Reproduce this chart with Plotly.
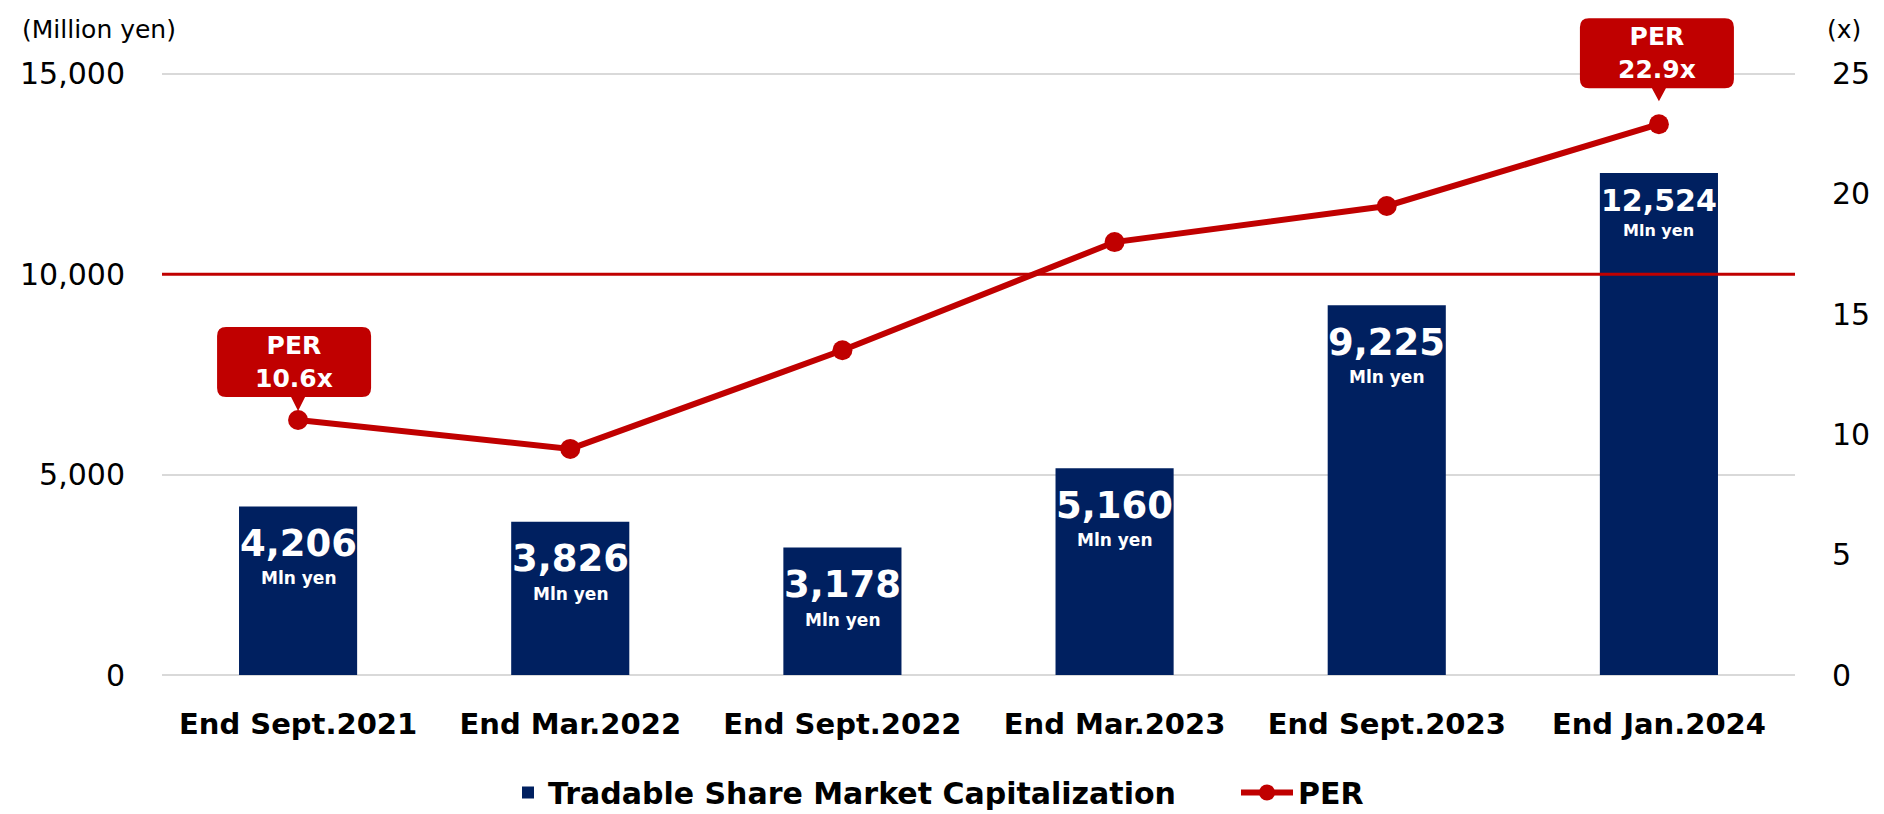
import plotly.graph_objects as go

# ---------------- data ----------------
categories = ["End Sept.2021", "End Mar.2022", "End Sept.2022",
              "End Mar.2023", "End Sept.2023", "End Jan.2024"]
market_cap = [4206, 3826, 3178, 5160, 9225, 12524]       # Million yen
per_values = [10.6, 9.4, 13.5, 18.0, 19.5, 22.9]          # x
callout_idx = [0, 5]                                      # points with PER callouts
reference_level = 10000                                   # red horizontal reference line
left_ticks = [0, 5000, 10000, 15000]
right_ticks = [0, 5, 10, 15, 20, 25]
left_top_tick = 15000
right_top_tick = 25

# ---------------- style ----------------
W, H = 1884, 814
ML, MR = 154, 97
GRID_TOP_PX = 67          # pixel row of the top gridline
PLOT_BOTTOM_PX = 681      # pixel row of the zero line
PLOT_TOP_PX = 4           # plot area extends above the top gridline (room for callout)
MT = PLOT_TOP_PX
MB = H - PLOT_BOTTOM_PX
NAVY = "#002060"
RED = "#C00000"
GRID = "#D9D9D9"
FONT = "DejaVu Sans"

PW = W - ML - MR
PH = H - MT - MB
stretch = (PLOT_BOTTOM_PX - PLOT_TOP_PX) / (PLOT_BOTTOM_PX - GRID_TOP_PX)
y_range = [0, left_top_tick * stretch]
y2_range = [0, right_top_tick * stretch]


def px_x(px):
    return (px - ML) / PW


def px_y(py):
    return (H - MB - py) / PH


fig = go.Figure()

fig.add_trace(go.Bar(
    x=categories, y=market_cap, name="Tradable Share Market Capitalization",
    marker=dict(color=NAVY, line=dict(width=0)), yaxis="y",
    hoverinfo="skip", legend="legend",
))
fig.add_trace(go.Scatter(
    x=categories, y=per_values, name="PER", yaxis="y2",
    mode="lines+markers",
    line=dict(color=RED, width=6),
    marker=dict(color=RED, size=20),
    hoverinfo="skip", legend="legend2",
))

# reference line
fig.add_shape(type="line", xref="paper", yref="y", x0=0, x1=1,
              y0=reference_level, y1=reference_level,
              line=dict(color=RED, width=3), layer="above")

annotations = []

# bar labels
num_size = [37, 37, 37, 37, 37, 30]
unit_size = [17, 17, 17, 17, 17, 16]
num_shift = [-37, -37, -37, -37, -37, -28]
unit_shift = [-72, -72, -72, -72, -72, -58]
for i, (c, v) in enumerate(zip(categories, market_cap)):
    annotations.append(dict(
        x=c, y=v, xref="x", yref="y", text=f"<b>{v:,}</b>", showarrow=False,
        yanchor="middle", yshift=num_shift[i],
        font=dict(family=FONT, size=num_size[i], color="white"),
    ))
    annotations.append(dict(
        x=c, y=v, xref="x", yref="y", text="<b>Mln yen</b>", showarrow=False,
        yanchor="middle", yshift=unit_shift[i],
        font=dict(family=FONT, size=unit_size[i], color="white"),
    ))

# PER callouts (rounded box with pointer)
box_bottom = [23, 36]
tip_gap = [9, 23]
box_h = 70
box_half_w = 77
box_dx = [-4, -2]
r = 9
for k, i in enumerate(callout_idx):
    B = box_bottom[k]
    T = B + box_h
    Lx = box_dx[k] - box_half_w
    Rx = box_dx[k] + box_half_w
    tip = tip_gap[k]
    path = (f"M {Lx + r},{T} L {Rx - r},{T} Q {Rx},{T} {Rx},{T - r} "
            f"L {Rx},{B + r} Q {Rx},{B} {Rx - r},{B} "
            f"L 7,{B} L 0,{tip} L -7,{B} "
            f"L {Lx + r},{B} Q {Lx},{B} {Lx},{B + r} "
            f"L {Lx},{T - r} Q {Lx},{T} {Lx + r},{T} Z")
    fig.add_shape(type="path", xref="x", yref="y2",
                  xsizemode="pixel", ysizemode="pixel",
                  xanchor=categories[i], yanchor=per_values[i],
                  path=path, fillcolor=RED, line=dict(width=0), layer="above")
    annotations.append(dict(
        x=categories[i], y=per_values[i], xref="x", yref="y2",
        text=f"<b>PER<br>{per_values[i]:.1f}x</b>", showarrow=False,
        xshift=box_dx[k], yshift=B + box_h / 2, yanchor="middle",
        font=dict(family=FONT, size=25, color="white"),
    ))

# axis unit titles
annotations.append(dict(
    x=px_x(12), y=px_y(22), xref="paper", yref="paper", text="(Million yen)",
    showarrow=False, xanchor="left", yanchor="middle",
    font=dict(family=FONT, size=25, color="black"),
))
annotations.append(dict(
    x=px_x(1817), y=px_y(22), xref="paper", yref="paper", text="(x)",
    showarrow=False, xanchor="left", yanchor="middle",
    font=dict(family=FONT, size=25, color="black"),
))

legend_font = dict(family=FONT, size=30, color="black", weight="bold")

fig.update_layout(
    width=W, height=H,
    margin=dict(l=ML, r=MR, t=MT, b=MB, pad=0),
    paper_bgcolor="white", plot_bgcolor="white",
    bargap=0.566,
    showlegend=True,
    legend=dict(orientation="h", x=px_x(500), xanchor="left",
                y=px_y(801), yanchor="middle", font=legend_font,
                bgcolor="rgba(0,0,0,0)"),
    legend2=dict(orientation="h", x=px_x(1228), xanchor="left",
                 y=px_y(801), yanchor="middle", font=legend_font,
                 itemwidth=52, bgcolor="rgba(0,0,0,0)"),
    xaxis=dict(
        type="category", showgrid=False, zeroline=False, showline=False,
        tickfont=dict(family=FONT, size=29, color="black", weight="bold"),
        ticks="", ticklabelstandoff=29,
    ),
    yaxis=dict(
        range=y_range, tickvals=left_ticks, tickformat=",",
        showgrid=True, gridcolor=GRID, gridwidth=2,
        zeroline=True, zerolinecolor=GRID, zerolinewidth=2,
        showline=False, ticks="", ticklabelstandoff=36,
        tickfont=dict(family=FONT, size=30, color="black"),
    ),
    yaxis2=dict(
        range=y2_range, tickvals=right_ticks, overlaying="y", side="right",
        showgrid=False, zeroline=False, showline=False, ticks="",
        ticklabelstandoff=36,
        tickfont=dict(family=FONT, size=30, color="black"),
    ),
    annotations=annotations,
)

fig.write_html("out.html")
